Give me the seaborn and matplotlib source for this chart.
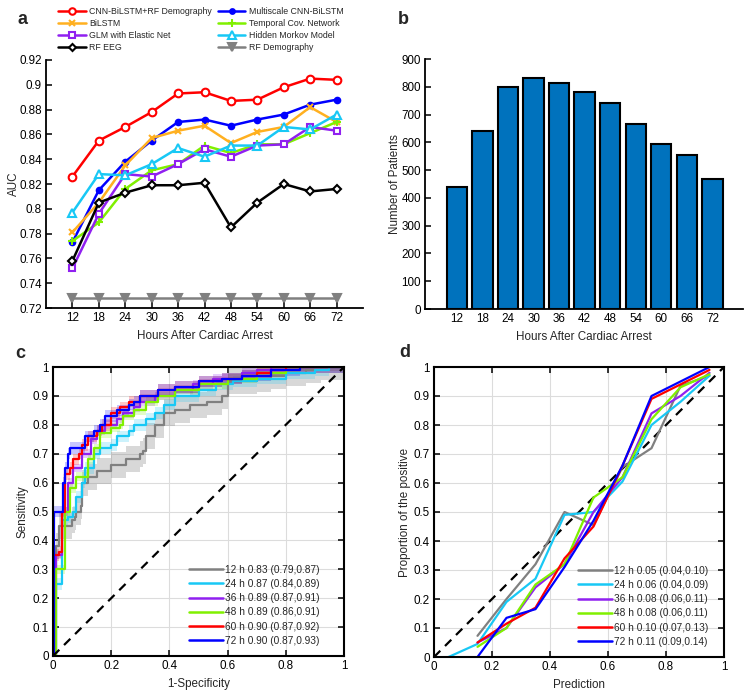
import matplotlib
matplotlib.use("Agg")
import matplotlib.pyplot as plt
import seaborn as sns
import numpy as np
from matplotlib.lines import Line2D

sns.set_theme(style="white")
plt.rcParams['font.family'] = ['Liberation Sans', 'DejaVu Sans']

# ---------------- data ----------------
hours = [12, 18, 24, 30, 36, 42, 48, 54, 60, 66, 72]

auc_cnn_bilstm_rf = [0.826, 0.855, 0.866, 0.878, 0.893, 0.894, 0.887, 0.888, 0.898, 0.905, 0.904]
auc_multiscale = [0.773, 0.815, 0.838, 0.855, 0.870, 0.872, 0.867, 0.872, 0.876, 0.884, 0.888]
auc_bilstm = [0.781, 0.805, 0.835, 0.857, 0.863, 0.867, 0.853, 0.862, 0.866, 0.882, 0.870]
auc_temporal = [0.774, 0.789, 0.816, 0.831, 0.836, 0.851, 0.845, 0.852, 0.852, 0.861, 0.870]
auc_glm = [0.752, 0.796, 0.828, 0.826, 0.836, 0.848, 0.842, 0.851, 0.852, 0.866, 0.863]
auc_hmm = [0.797, 0.828, 0.827, 0.836, 0.849, 0.842, 0.851, 0.851, 0.866, 0.864, 0.876]
auc_rf_eeg = [0.758, 0.805, 0.813, 0.819, 0.819, 0.821, 0.785, 0.805, 0.820, 0.814, 0.816]
auc_rf_demo = [0.728, 0.728, 0.728, 0.728, 0.728, 0.728, 0.728, 0.728, 0.728, 0.728, 0.728]

model_names = ["CNN-BiLSTM+RF Demography", "Multiscale CNN-BiLSTM", "BiLSTM",
               "Temporal Cov. Network", "GLM with Elastic Net", "Hidden Morkov Model",
               "RF EEG", "RF Demography"]

patients = [440, 642, 798, 830, 815, 782, 742, 665, 595, 553, 467]

roc_labels = ["12 h 0.83 (0.79,0.87)", "24 h 0.87 (0.84,0.89)", "36 h 0.89 (0.87,0.91)",
              "48 h 0.89 (0.86,0.91)", "60 h 0.90 (0.87,0.92)", "72 h 0.90 (0.87,0.93)"]
roc_12_fpr = [0, 0.005, 0.01, 0.02, 0.06, 0.065, 0.075, 0.08, 0.095, 0.1, 0.12, 0.15, 0.2, 0.25, 0.3,
              0.31, 0.32, 0.35, 0.38, 0.42, 0.47, 0.53, 0.58, 0.6, 0.7, 0.75, 0.8, 0.87, 0.92, 1.0]
roc_12_tpr = [0, 0.3, 0.38, 0.45, 0.45, 0.47, 0.48, 0.5, 0.52, 0.6, 0.62, 0.64, 0.66, 0.68, 0.70,
              0.71, 0.76, 0.80, 0.84, 0.85, 0.87, 0.88, 0.9, 0.95, 0.96, 0.97, 0.98, 0.99, 1.0, 1.0]
roc_24_fpr = [0, 0.01, 0.03, 0.05, 0.07, 0.08, 0.1, 0.11, 0.14, 0.16, 0.2, 0.22, 0.26, 0.28, 0.32,
              0.35, 0.38, 0.42, 0.5, 0.56, 0.62, 0.7, 0.8, 0.9, 0.95, 1.0]
roc_24_tpr = [0, 0.25, 0.47, 0.48, 0.5, 0.55, 0.6, 0.65, 0.7, 0.72, 0.73, 0.76, 0.78, 0.8, 0.82,
              0.84, 0.87, 0.9, 0.92, 0.94, 0.95, 0.96, 0.98, 0.99, 1.0, 1.0]
roc_36_fpr = [0, 0.01, 0.03, 0.05, 0.07, 0.1, 0.13, 0.15, 0.18, 0.22, 0.24, 0.28, 0.3, 0.35, 0.42,
              0.48, 0.55, 0.65, 0.7, 0.75, 1.0]
roc_36_tpr = [0, 0.35, 0.5, 0.6, 0.65, 0.7, 0.75, 0.78, 0.8, 0.82, 0.84, 0.86, 0.88, 0.9, 0.92,
              0.94, 0.96, 0.98, 0.99, 1.0, 1.0]
roc_48_fpr = [0, 0.01, 0.04, 0.06, 0.08, 0.12, 0.14, 0.16, 0.2, 0.23, 0.24, 0.28, 0.32, 0.36, 0.42,
              0.5, 0.6, 0.7, 0.8, 0.85, 1.0]
roc_48_tpr = [0, 0.3, 0.5, 0.58, 0.62, 0.68, 0.72, 0.77, 0.79, 0.8, 0.83, 0.85, 0.88, 0.9, 0.92,
              0.94, 0.96, 0.98, 0.99, 1.0, 1.0]
roc_60_fpr = [0, 0.005, 0.02, 0.03, 0.04, 0.06, 0.07, 0.09, 0.1, 0.12, 0.15, 0.17, 0.2, 0.23, 0.26,
              0.3, 0.36, 0.42, 0.5, 0.58, 0.65, 0.7, 0.75, 0.8, 1.0]
roc_60_tpr = [0, 0.35, 0.36, 0.5, 0.63, 0.65, 0.68, 0.7, 0.73, 0.76, 0.78, 0.8, 0.84, 0.86, 0.88,
              0.9, 0.92, 0.93, 0.95, 0.96, 0.97, 0.98, 0.99, 1.0, 1.0]
roc_72_fpr = [0, 0.005, 0.03, 0.035, 0.04, 0.05, 0.06, 0.09, 0.11, 0.14, 0.16, 0.18, 0.22, 0.26,
              0.28, 0.3, 0.36, 0.42, 0.5, 0.58, 0.65, 0.75, 0.85, 1.0]
roc_72_tpr = [0, 0.5, 0.5, 0.6, 0.65, 0.7, 0.72, 0.72, 0.76, 0.78, 0.8, 0.83, 0.85, 0.87,
              0.88, 0.9, 0.92, 0.93, 0.95, 0.96, 0.97, 0.99, 1.0, 1.0]
roc_ci_halfwidth = [0.045, 0.02, 0.015, 0.015, 0.02, 0.02]

cal_labels = ["12 h 0.05 (0.04,0.10)", "24 h 0.06 (0.04,0.09)", "36 h 0.08 (0.06,0.11)",
              "48 h 0.08 (0.06,0.11)", "60 h 0.10 (0.07,0.13)", "72 h 0.11 (0.09,0.14)"]
cal_12_x = [0.15, 0.25, 0.35, 0.45, 0.55, 0.65, 0.75, 0.85, 0.95]
cal_12_y = [0.073, 0.20, 0.32, 0.50, 0.455, 0.655, 0.72, 0.935, 0.97]
cal_24_x = [0.05, 0.15, 0.25, 0.35, 0.45, 0.55, 0.65, 0.75, 0.85, 0.95]
cal_24_y = [0.0, 0.045, 0.19, 0.27, 0.49, 0.50, 0.605, 0.80, 0.88, 0.97]
cal_36_x = [0.15, 0.25, 0.35, 0.45, 0.55, 0.65, 0.75, 0.85, 0.95]
cal_36_y = [0.05, 0.10, 0.24, 0.32, 0.50, 0.62, 0.84, 0.90, 0.98]
cal_48_x = [0.15, 0.25, 0.35, 0.45, 0.55, 0.65, 0.75, 0.85, 0.95]
cal_48_y = [0.035, 0.10, 0.25, 0.32, 0.55, 0.62, 0.82, 0.93, 0.975]
cal_60_x = [0.15, 0.25, 0.35, 0.45, 0.55, 0.65, 0.75, 0.85, 0.95]
cal_60_y = [0.05, 0.115, 0.17, 0.34, 0.45, 0.66, 0.89, 0.94, 0.99]
cal_72_x = [0.15, 0.25, 0.35, 0.45, 0.55, 0.65, 0.75, 0.85, 0.95]
cal_72_y = [0.0, 0.135, 0.165, 0.31, 0.47, 0.66, 0.90, 0.95, 1.0]

# ---------------- styles ----------------
C_RED, C_BLUE, C_ORANGE, C_GREEN = '#FF0000', '#0000FF', '#FFB020', '#80F000'
C_PURPLE, C_CYAN, C_BLACK, C_GRAY = '#9020F0', '#18C8F5', '#000000', '#808080'
FS = 8.4
LFS = 7.3
AFS = 6.3

fig = plt.figure(figsize=(7.5, 6.96), dpi=100)

def frac(l, t, r, b):
    return [l / 750, 1 - b / 696, (r - l) / 750, (b - t) / 696]

ax_a = fig.add_axes(frac(46, 60, 363, 308))
ax_b = fig.add_axes(frac(425, 59, 743, 309))
ax_c = fig.add_axes(frac(53, 367, 344, 656))
ax_d = fig.add_axes(frac(434, 367, 724, 657))

# ---------------- panel a ----------------
series_a = [
    (auc_cnn_bilstm_rf, C_RED, 'o', 'white', 5.5),
    (auc_multiscale, C_BLUE, 'o', C_BLUE, 4),
    (auc_bilstm, C_ORANGE, 'x', C_ORANGE, 4.5),
    (auc_temporal, C_GREEN, '+', C_GREEN, 6),
    (auc_glm, C_PURPLE, 's', 'white', 5),
    (auc_hmm, C_CYAN, '^', 'white', 6),
    (auc_rf_eeg, C_BLACK, 'D', 'white', 4.2),
    (auc_rf_demo, C_GRAY, 'v', C_GRAY, 6),
]
handles = {}
for name, (vals, col, mk, mfc, ms) in zip(model_names, series_a):
    sns.lineplot(x=hours, y=vals, ax=ax_a, color=col, marker=mk, markersize=ms,
                 markerfacecolor=mfc, markeredgecolor=col, markeredgewidth=1.5,
                 linewidth=1.8, estimator=None, sort=False, legend=False)
    handles[name] = Line2D([], [], color=col, marker=mk, markersize=ms * 0.85, markerfacecolor=mfc,
                           markeredgecolor=col, markeredgewidth=1.5, linewidth=1.8)
ax_a.set_xlim(6, 78)
ax_a.set_ylim(0.72, 0.92)
ax_a.set_xticks(hours)
yt = [0.72, 0.74, 0.76, 0.78, 0.80, 0.82, 0.84, 0.86, 0.88, 0.90, 0.92]
ax_a.set_yticks(yt)
ax_a.set_yticklabels([f"{v:.2f}".rstrip('0') for v in yt])
ax_a.set_xlabel("Hours After Cardiac Arrest", fontsize=FS)
ax_a.set_ylabel("AUC", fontsize=FS)
order = [model_names[i] for i in [0, 2, 4, 6, 1, 3, 5, 7]]
fig.legend([handles[n] for n in order], order, ncol=2, loc='upper left',
           bbox_to_anchor=(54 / 750, 1 - 3 / 696), frameon=False, fontsize=AFS,
           handlelength=3.1, labelspacing=0.32, columnspacing=0.75, handletextpad=0.4,
           borderpad=0.0)

# ---------------- panel b ----------------
sns.barplot(x=[str(h) for h in hours], y=patients, ax=ax_b, color='#0072BD', saturation=1,
            edgecolor='black', linewidth=1.5, width=0.8)
ax_b.set_xlim(-1.25, 11.2)
ax_b.set_ylim(0, 900)
ax_b.set_yticks(range(0, 901, 100))
ax_b.set_xlabel("Hours After Cardiac Arrest", fontsize=FS)
ax_b.set_ylabel("Number of Patients", fontsize=FS)

for ax in (ax_a, ax_b):
    for s in ('top', 'right'):
        ax.spines[s].set_visible(False)
    for s in ('left', 'bottom'):
        ax.spines[s].set_color('black')
        ax.spines[s].set_linewidth(1.3)
    ax.tick_params(direction='in', length=4, width=1.1, colors='black', labelsize=FS,
                   bottom=True, left=True, pad=3)

# ---------------- panel c ----------------
roc_colors = [C_GRAY, C_CYAN, C_PURPLE, C_GREEN, C_RED, C_BLUE]
roc_data = [(roc_12_fpr, roc_12_tpr), (roc_24_fpr, roc_24_tpr), (roc_36_fpr, roc_36_tpr),
            (roc_48_fpr, roc_48_tpr), (roc_60_fpr, roc_60_tpr), (roc_72_fpr, roc_72_tpr)]
for (fx, ty), col, hw in zip(roc_data, roc_colors, roc_ci_halfwidth):
    fx = np.array(fx); ty = np.array(ty)
    lo = np.clip(ty - hw, 0, 1); hi = np.clip(ty + hw, 0, 1)
    ax_c.fill_between(fx, lo, hi, color=col, alpha=0.22 if col != C_GRAY else 0.3,
                      linewidth=0, step='post')
for (fx, ty), col, lab in zip(roc_data, roc_colors, roc_labels):
    sns.lineplot(x=fx, y=ty, ax=ax_c, color=col, linewidth=1.6, estimator=None, sort=False,
                 drawstyle='steps-post', label=lab)
ax_c.plot([0, 1], [0, 1], color='black', linestyle=(0, (4, 3)), linewidth=1.6)
ax_c.set_xlabel("1-Specificity", fontsize=FS)
ax_c.set_ylabel("Sensitivity", fontsize=FS)

# ---------------- panel d ----------------
cal_data = [(cal_12_x, cal_12_y), (cal_24_x, cal_24_y), (cal_36_x, cal_36_y),
            (cal_48_x, cal_48_y), (cal_60_x, cal_60_y), (cal_72_x, cal_72_y)]
ax_d.plot([0, 1], [0, 1], color='black', linestyle=(0, (4, 3)), linewidth=1.6)
for (cx, cy), col, lab in zip(cal_data, roc_colors, cal_labels):
    sns.lineplot(x=cx, y=cy, ax=ax_d, color=col, linewidth=1.6, estimator=None, sort=False,
                 label=lab)
ax_d.set_xlabel("Prediction", fontsize=FS)
ax_d.set_ylabel("Proportion of the positive", fontsize=FS)

ticks01 = [0, 0.1, 0.2, 0.3, 0.4, 0.5, 0.6, 0.7, 0.8, 0.9, 1]
tickx = [0, 0.2, 0.4, 0.6, 0.8, 1]
for ax, anchor in ((ax_c, (0.915, 0.035)), (ax_d, (0.945, 0.035))):
    ax.set_xlim(0, 1); ax.set_ylim(0, 1)
    ax.set_yticks(ticks01)
    ax.set_yticklabels([f"{v:g}" for v in ticks01])
    ax.set_xticks(tickx)
    ax.set_xticklabels([f"{v:g}" for v in tickx])
    ax.grid(True, color='#DCDCDC', linewidth=0.8)
    ax.set_axisbelow(True)
    for s in ax.spines.values():
        s.set_color('black'); s.set_linewidth(1.5); s.set_visible(True)
    ax.tick_params(direction='in', length=4, width=1.1, colors='black', labelsize=FS,
                   top=True, right=True, bottom=True, left=True, pad=3)
    leg = ax.legend(loc='lower right', bbox_to_anchor=anchor, frameon=False, fontsize=LFS,
                    handlelength=3.3, labelspacing=0.42, handletextpad=0.2, borderpad=0,
                    borderaxespad=0)
    for h in leg.get_lines():
        h.set_linewidth(1.8)

# y-label positions (axes coords)
ax_a.yaxis.set_label_coords(-0.082, 0.5)
ax_b.yaxis.set_label_coords(-0.075, 0.5)
ax_c.yaxis.set_label_coords(-0.085, 0.5)
ax_d.yaxis.set_label_coords(-0.08, 0.5)

for t, x, y in (("a", 22, 20), ("b", 403, 19), ("c", 20, 353), ("d", 405, 352)):
    fig.text(x / 750, 1 - y / 696, t, fontsize=13, fontweight='bold', ha='center', va='center')

fig.savefig("out.png", dpi=100)
